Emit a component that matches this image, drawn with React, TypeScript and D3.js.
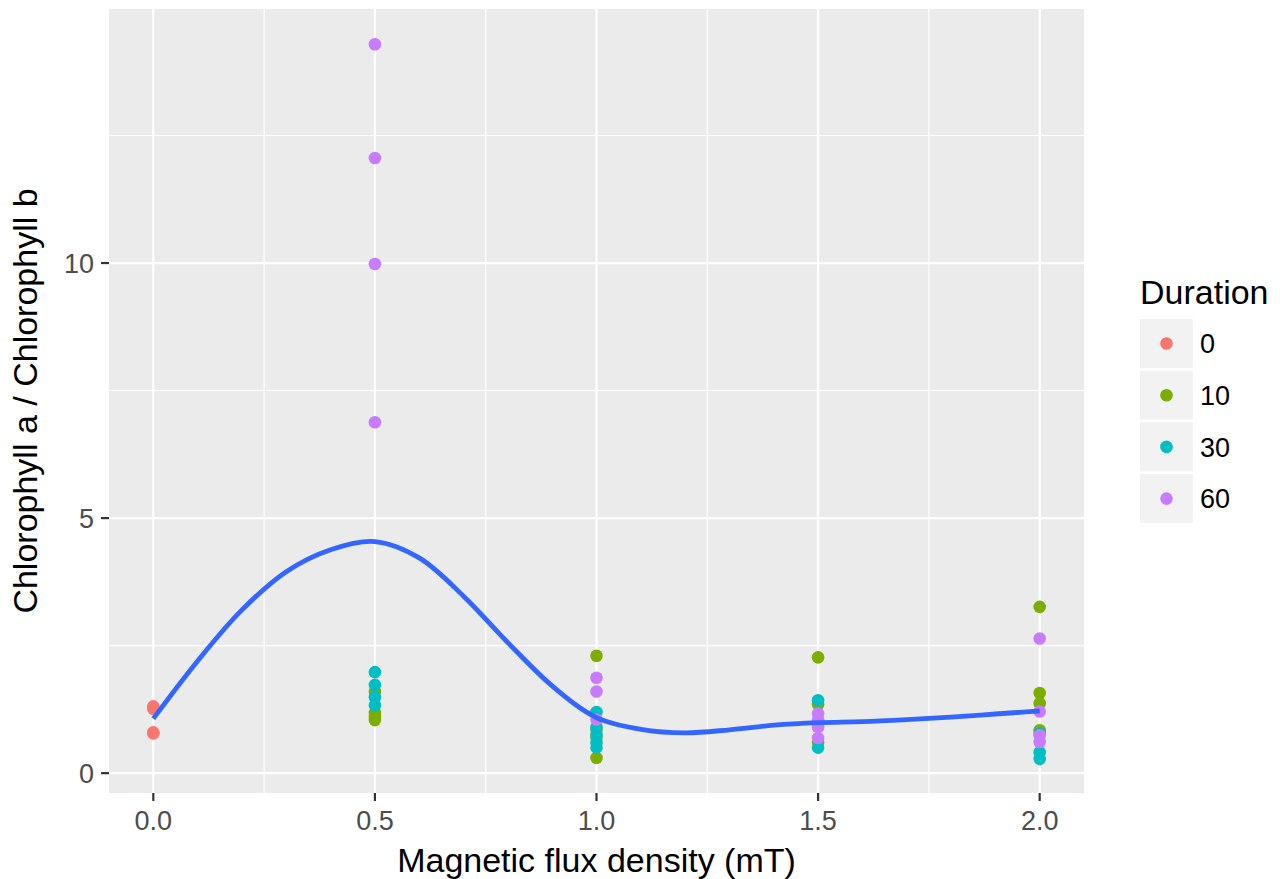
import React from "react";
import * as d3 from "d3";

// ---- data ----
const durations = ["0", "10", "30", "60"];
const durationColors = ["#F8766D", "#7CAE00", "#00BFC4", "#C77CFF"];

// [flux density (mT), chlorophyll a / b]
const pointsDur0: [number, number][] = [
  [0, 1.31], [0, 1.26], [0, 0.8], [0, 0.78],
];
const pointsDur10: [number, number][] = [
  [0.5, 1.6], [0.5, 1.18], [0.5, 1.04], [0.5, 1.1],
  [1.0, 2.3], [1.0, 0.85], [1.0, 0.7], [1.0, 0.3],
  [1.5, 2.27], [1.5, 1.35], [1.5, 0.6],
  [2.0, 3.26], [2.0, 1.57], [2.0, 1.37], [2.0, 0.84],
];
const pointsDur30: [number, number][] = [
  [0.5, 1.98], [0.5, 1.73], [0.5, 1.49], [0.5, 1.33],
  [1.0, 1.2], [1.0, 0.9], [1.0, 0.75], [1.0, 0.6], [1.0, 0.5],
  [1.5, 1.43], [1.5, 0.5],
  [2.0, 0.78], [2.0, 0.41], [2.0, 0.28],
];
const pointsDur60: [number, number][] = [
  [0.5, 14.29], [0.5, 12.06], [0.5, 9.98], [0.5, 6.88],
  [1.0, 1.87], [1.0, 1.6], [1.0, 1.05],
  [1.5, 1.17], [1.5, 1.05], [1.5, 0.9], [1.5, 0.69],
  [2.0, 2.64], [2.0, 1.21], [2.0, 0.74], [2.0, 0.61],
];
const seriesPoints = [pointsDur0, pointsDur10, pointsDur30, pointsDur60];

// loess smooth
const smoothX = [0, 0.1, 0.2, 0.3, 0.4, 0.5, 0.6, 0.7, 0.8, 0.9, 1.0, 1.1, 1.2, 1.3, 1.4, 1.5, 1.6, 1.7, 1.8, 1.9, 2.0];
const smoothY = [1.07, 2.2, 3.2, 3.95, 4.38, 4.54, 4.22, 3.47, 2.56, 1.71, 1.09, 0.86, 0.79, 0.85, 0.94, 0.99, 1.01, 1.05, 1.1, 1.16, 1.22];

const xTicks = [0, 0.5, 1.0, 1.5, 2.0];
const xMinor = [0.25, 0.75, 1.25, 1.75];
const yTicks = [0, 5, 10];
const yMinor = [2.5, 7.5, 12.5];

const FONT = "'Liberation Sans', Arial, Helvetica, sans-serif";

export default function App() {
  const W = 1284, H = 879;
  const pl = 109, pr = 1084, pt = 9, pb = 793;
  const x = d3.scaleLinear().domain([-0.1, 2.1]).range([pl, pr]);
  const y = d3.scaleLinear().domain([-0.389, 14.98]).range([pb, pt]);
  const line = d3.line<number>()
    .x((_, i) => x(smoothX[i]))
    .y((d) => y(d))
    .curve(d3.curveCatmullRom.alpha(0.5));

  const keyX = 1140, keyW = 53, keyH = 49, keyStep = 51.7, keyTop = 319;

  return (
    <svg width={W} height={H} style={{ position: "absolute", left: 0, top: 0, background: "#fff" }}>
      <rect x={0} y={0} width={W} height={H} fill="#fff" />
      <rect x={pl} y={pt} width={pr - pl} height={pb - pt} fill="#EBEBEB" />
      {xMinor.map((v) => (
        <line key={"xm" + v} x1={x(v)} x2={x(v)} y1={pt} y2={pb} stroke="#fff" strokeWidth={1.1} />
      ))}
      {yMinor.map((v) => (
        <line key={"ym" + v} x1={pl} x2={pr} y1={y(v)} y2={y(v)} stroke="#fff" strokeWidth={1.1} />
      ))}
      {xTicks.map((v) => (
        <line key={"xM" + v} x1={x(v)} x2={x(v)} y1={pt} y2={pb} stroke="#fff" strokeWidth={2.2} />
      ))}
      {yTicks.map((v) => (
        <line key={"yM" + v} x1={pl} x2={pr} y1={y(v)} y2={y(v)} stroke="#fff" strokeWidth={2.2} />
      ))}
      {seriesPoints.map((pts, si) =>
        pts.map((p, i) => (
          <circle key={si + "-" + i} cx={x(p[0])} cy={y(p[1])} r={6.3} fill={durationColors[si]} />
        ))
      )}
      <path d={line(smoothY) || ""} fill="none" stroke="#3366FF" strokeWidth={4.8} />
      {/* axes ticks */}
      {xTicks.map((v) => (
        <g key={"xt" + v}>
          <line x1={x(v)} x2={x(v)} y1={pb} y2={pb + 8} stroke="#333" strokeWidth={2.2} />
          <text x={x(v)} y={830} textAnchor="middle" fontFamily={FONT} fontSize={27} fill="#4D4D4D">
            {v.toFixed(1)}
          </text>
        </g>
      ))}
      {yTicks.map((v) => (
        <g key={"yt" + v}>
          <line x1={pl - 8} x2={pl} y1={y(v)} y2={y(v)} stroke="#333" strokeWidth={2.2} />
          <text x={94} y={y(v)} dy="0.36em" textAnchor="end" fontFamily={FONT} fontSize={27} fill="#4D4D4D">
            {v}
          </text>
        </g>
      ))}
      <text x={(pl + pr) / 2} y={872} textAnchor="middle" fontFamily={FONT} fontSize={34} fill="#000">
        Magnetic flux density (mT)
      </text>
      <text
        transform={`translate(37,${(pt + pb) / 2}) rotate(-90)`}
        textAnchor="middle"
        fontFamily={FONT}
        fontSize={34}
        fill="#000"
      >
        Chlorophyll a / Chlorophyll b
      </text>
      {/* legend */}
      <text x={keyX} y={304} fontFamily={FONT} fontSize={34} fill="#000">Duration</text>
      {durations.map((d, i) => {
        const ky = keyTop + i * keyStep;
        return (
          <g key={"lg" + d}>
            <rect x={keyX} y={ky} width={keyW} height={keyH} fill="#F2F2F2" />
            <circle cx={keyX + keyW / 2} cy={ky + keyH / 2} r={6.3} fill={durationColors[i]} />
            <text x={1200} y={ky + keyH / 2} dy="0.36em" fontFamily={FONT} fontSize={27} fill="#000">
              {d}
            </text>
          </g>
        );
      })}
    </svg>
  );
}
